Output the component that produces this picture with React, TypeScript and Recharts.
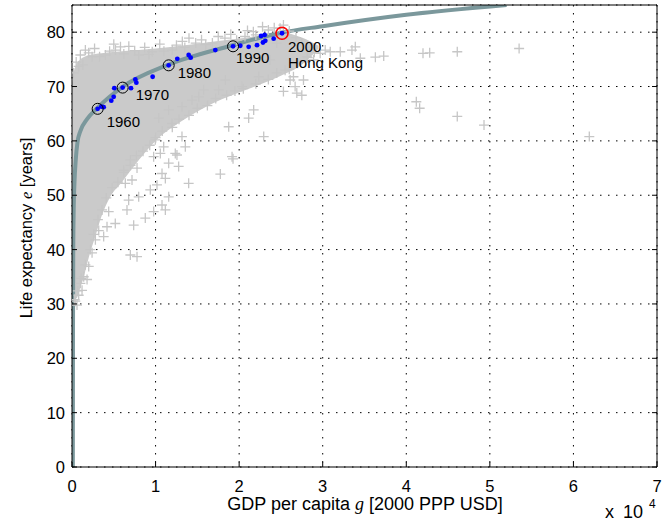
import React from "react";
import { ComposedChart, XAxis, YAxis, CartesianGrid, Area, Line, Scatter } from "recharts";

// GDP per capita g is in units of 10^4 USD, life expectancy e in years
const xTicks = [0, 1, 2, 3, 4, 5, 6, 7];
const yTicks = [0, 10, 20, 30, 40, 50, 60, 70, 80];

// dense core of the country/year cloud: lower and upper edge at each g
const bandG = [0, 0.02, 0.05, 0.1, 0.15, 0.2, 0.28, 0.35, 0.45, 0.6, 0.8, 1.0, 1.3, 1.7, 2.1, 2.5, 2.75, 2.95];
const bandLow = [31, 31, 31, 33, 35.5, 38.5, 42.5, 46, 49.5, 52.5, 56.5, 60, 63.5, 67, 69.5, 72, 74, 77];
const bandHigh = [70.5, 72.5, 74, 75, 75.5, 75.8, 76, 76.1, 76.3, 76.5, 76.7, 77, 77.5, 78.3, 79, 80, 79, 77.5];

// single country/year points outside or on the edge of the dense core
const cloud: [number, number][] = [
  // far right
  [3.09, 76.4], [3.21, 76.4], [3.35, 76.7], [3.39, 77.3], [3.45, 75.2], [3.63, 75.4], [3.73, 75.6],
  [4.2, 76.1], [4.28, 76.2], [4.61, 76.4], [5.35, 77.0], [4.12, 67.2], [4.16, 66.0], [4.61, 64.5],
  [4.93, 62.9], [6.19, 60.8],
  // around Hong Kong 2000
  [2.45, 78], [2.55, 73], [2.61, 71.2], [2.67, 70], [2.69, 68.8], [2.75, 68.4], [2.65, 71.8],
  [2.77, 71.2], [2.97, 76.1], [3.03, 76.7], [2.81, 75.5], [2.89, 74.9], [2.37, 74.9], [2.53, 69.1],
  [2.53, 81.3], [2.49, 80.7],
  // below the curve, middle
  [1.157, 65.7], [1.316, 66.3], [1.436, 67.5], [1.516, 68.1], [1.576, 69.4], [1.316, 60.8],
  [1.197, 63.2], [1.356, 58.9], [1.236, 57.7], [1.875, 62.6], [1.915, 57.1], [2.174, 65.7],
  [2.294, 60.8], [2.114, 64.2], [1.755, 69.4], [1.835, 71.2], [2.034, 70.0], [2.234, 71.8],
  [1.037, 64.2], [0.997, 60.2], [1.097, 58.9], [0.977, 57.1],
  [1.057, 57.7], [1.256, 57.4], [1.276, 55.3], [1.157, 55.9], [1.077, 54.0], [1.117, 53.1],
  [1.017, 51.9], [0.937, 51.0], [1.396, 52.2], [1.775, 53.9], [1.927, 56.7], [1.157, 49.7],
  [1.077, 48.2], [1.117, 47.3], [0.977, 47.0], [0.877, 45.8], [0.738, 44.5], [0.698, 39.0],
  [0.778, 38.7], [0.798, 49.7], [0.678, 49.1], [0.658, 47.3], [0.439, 47.0], [0.518, 44.8],
  [0.419, 44.2], [0.379, 42.4], [0.638, 52.2], [0.718, 52.8], [0.618, 54.6], [0.778, 55.0],
  [0.698, 56.5],
  // lower left
  [0.08, 31.6], [0.06, 29.8], [0.1, 33.8], [0.14, 35.0], [0.2, 36.9], [0.24, 39.4], [0.28, 41.8],
  [0.12, 32.5], [0.18, 34.5], [0.32, 43.5], [0.04, 30.5],
  // top edge
  [0.16, 76.7], [0.24, 75.5], [0.4, 75.8], [0.52, 76.7], [0.58, 77.3], [0.08, 73.7], [0.8, 75.8],
  [0.96, 76.4], [1.32, 78.3], [1.4, 78.9], [1.48, 78], [1.68, 78], [1.83, 78.9], [2.07, 79.2],
  [2.17, 80.1], [2.35, 80.4], [1.2, 76.7],
  [0.02, 72.5], [0.05, 74.5], [0.1, 75.8], [0.13, 74], [0.2, 76.2], [0.27, 77], [0.33, 75.5],
  [0.45, 76.5], [0.5, 77.8], [0.62, 76], [0.68, 77.4], [0.75, 76.6], [0.87, 77.2], [0.92, 75.9],
  [1.05, 77.8], [1.1, 76.5], [1.25, 77.6], [1.35, 77.2], [1.55, 78.6], [1.6, 77.7], [1.75, 79.2],
  [1.9, 79.6], [1.97, 78.5], [2.1, 80.3], [2.2, 79.5], [2.28, 81], [2.42, 80.8], [2.6, 80.2],
  [2.68, 79], [2.75, 78], [2.85, 77.2],
  // bottom edge
  [0.03, 30.8], [0.07, 32.4], [0.11, 34.7], [0.16, 37.2], [0.22, 40], [0.26, 42.8], [0.31, 45.5],
  [0.36, 47.3], [0.41, 49.5], [0.48, 51.4], [0.55, 52.4], [0.62, 54.2], [0.7, 55.5], [0.77, 57.3],
  [0.85, 58.1], [0.93, 59.2], [1.0, 60.6], [1.08, 61.8], [1.2, 62.5], [1.28, 64], [1.4, 64.7],
  [1.5, 66], [1.62, 66.5], [1.72, 67.8], [1.85, 68.4], [1.95, 69.2], [2.05, 69.6], [2.2, 70.5],
  [2.35, 71.3], [2.45, 72.5], [2.6, 73.2], [2.7, 74.3], [2.82, 75.3], [2.9, 76.3],
];

// log fit through the cloud
const fit: [number, number][] = [
  [0.01, 0], [0.012, 25], [0.015, 40], [0.02, 47], [0.03, 52.5], [0.045, 56.5], [0.065, 59.7],
  [0.1, 61.8], [0.18, 64], [0.3, 66], [0.6, 69.9], [1.15, 74], [1.9, 77.5], [2.5, 79.9],
  [3.0, 81.1], [4.0, 83.2], [5.2, 85],
];

// Hong Kong, 1960-2000
const hongKong: [number, number][] = [
  [0.307, 65.9], [0.351, 66.3], [0.379, 66.2], [0.47, 67.4], [0.499, 68.1], [0.506, 69.7],
  [0.606, 69.8], [0.706, 69.7], [0.758, 71.3], [0.77, 70.7], [0.965, 71.8], [1.157, 73.9],
  [1.26, 75.1], [1.396, 75.8], [1.42, 75.3], [1.715, 76.7], [1.927, 77.4], [2.014, 77.5],
  [2.114, 77.3], [2.214, 77.6], [2.262, 79.3], [2.305, 79.5], [2.285, 78.1], [2.313, 78.4],
  [2.413, 78.8], [2.513, 79.8],
];

const markYears = ["1960", "1970", "1980", "1990", "2000"];
const markPoints: [number, number][] = [[0.307, 65.9], [0.606, 69.8], [1.157, 73.9], [1.927, 77.4], [2.513, 79.8]];

const FONT = '"Liberation Sans", Arial, Helvetica, sans-serif';
const labelOffset: Record<string, [number, number]> = {
  "1960": [9, 18],
  "1970": [13, 12],
  "1980": [9, 13],
  "1990": [3, 17],
  "2000": [6, 19],
};

const bandData = bandG.map((g, i) => ({ g, band: [bandLow[i], bandHigh[i]] }));
const cloudData = cloud.map(([g, e]) => ({ g, e }));
const fitData = fit.map(([g, e]) => ({ g, e }));
const hkData = hongKong.map(([g, e]) => ({ g, e }));
const markData = markPoints.map(([g, e], i) => ({ g, e, year: markYears[i] }));

const Cross = (p: any) => (
  <path
    d={`M${p.cx - 5},${p.cy}h10M${p.cx},${p.cy - 5}v10`}
    stroke="#c6c6c6"
    strokeWidth={1.3}
    fill="none"
  />
);

const Dot = (p: any) => <circle cx={p.cx} cy={p.cy} r={2.4} fill="#0000ff" />;

const Marker = (p: any) => {
  const year = p.payload?.year ?? p.year;
  const last = year === "2000";
  const [dx, dy] = labelOffset[year] || [8, 16];
  return (
    <g>
      <circle cx={p.cx} cy={p.cy} r={last ? 6 : 5.5} fill="none" stroke={last ? "#ff0000" : "#000"} strokeWidth={last ? 1.6 : 1} />
      <text x={p.cx + dx} y={p.cy + dy} fontSize={15} fontFamily={FONT} fill="#000">{year}</text>
      {last && (
        <text x={p.cx + dx} y={p.cy + dy + 16} fontSize={15} fontFamily={FONT} fill="#000">Hong Kong</text>
      )}
    </g>
  );
};

const BottomTick = (p: any) => (
  <g>
    <line x1={p.x} y1={p.y} x2={p.x} y2={p.y - 5} stroke="#000" />
    <text x={p.x} y={p.y + 25} textAnchor="middle" fontSize={16.5} fontFamily={FONT} fill="#000">
      {p.payload.value}
    </text>
  </g>
);

const TopTick = (p: any) => <line x1={p.x} y1={p.y} x2={p.x} y2={p.y + 5} stroke="#000" />;

const LeftTick = (p: any) => (
  <g>
    <line x1={p.x} y1={p.y} x2={p.x + 5} y2={p.y} stroke="#000" />
    <text x={p.x - 7} y={p.y + 6} textAnchor="end" fontSize={16.5} fontFamily={FONT} fill="#000">
      {p.payload.value}
    </text>
  </g>
);

const RightTick = (p: any) => <line x1={p.x} y1={p.y} x2={p.x - 5} y2={p.y} stroke="#000" />;

export default function App() {
  return (
    <div style={{ position: "absolute", left: 0, top: 0, background: "#fff" }}>
      <ComposedChart width={667} height={521} margin={{ top: 4, right: 9, bottom: 0, left: 0 }}>
        <CartesianGrid stroke="#000" strokeDasharray="1.5 6.5" strokeWidth={1} />
        <XAxis
          dataKey="g"
          type="number"
          domain={[0, 7]}
          ticks={xTicks}
          interval={0}
          allowDataOverflow
          height={54}
          tickSize={0}
          tickMargin={0}
          tick={<BottomTick />}
          axisLine={{ stroke: "#000" }}
        />
        <XAxis
          xAxisId="top"
          orientation="top"
          type="number"
          domain={[0, 7]}
          ticks={xTicks}
          interval={0}
          allowDataOverflow
          height={1}
          tickSize={0}
          tickMargin={0}
          tick={<TopTick />}
          axisLine={{ stroke: "#000" }}
        />
        <YAxis
          dataKey="e"
          type="number"
          domain={[0, 85]}
          ticks={yTicks}
          interval={0}
          allowDataOverflow
          width={72}
          tickSize={0}
          tickMargin={0}
          tick={<LeftTick />}
          axisLine={{ stroke: "#000" }}
        />
        <YAxis
          yAxisId="right"
          orientation="right"
          type="number"
          domain={[0, 85]}
          ticks={yTicks}
          interval={0}
          allowDataOverflow
          width={1}
          tickSize={0}
          tickMargin={0}
          tick={<RightTick />}
          axisLine={{ stroke: "#000" }}
        />
        <Area
          data={bandData}
          dataKey="band"
          type="monotone"
          stroke="none"
          fill="#cacaca"
          fillOpacity={1}
          isAnimationActive={false}
        />
        <Scatter data={cloudData} shape={<Cross />} isAnimationActive={false} />
        <Line
          data={fitData}
          dataKey="e"
          type="monotone"
          stroke="#7b989c"
          strokeWidth={4}
          dot={false}
          activeDot={false}
          isAnimationActive={false}
        />
        <Scatter data={hkData} shape={<Dot />} isAnimationActive={false} />
        <Scatter data={markData} shape={<Marker />} isAnimationActive={false} />
        <text x={365} y={510} textAnchor="middle" fontSize={18} fontFamily={FONT} fill="#000">
          GDP per capita <tspan fontFamily="'Liberation Serif', serif" fontStyle="italic">g</tspan> [2000 PPP USD]
        </text>
        <text transform="rotate(-90)" x={-228} y={32} textAnchor="middle" fontSize={16.5} fontFamily={FONT} fill="#000">
          Life expectancy <tspan fontFamily="'Liberation Serif', serif" fontStyle="italic">e</tspan> [years]
        </text>
        <text x={605} y={518} fontSize={18} fontFamily={FONT} fill="#000">x</text>
        <text x={623} y={518} fontSize={18} fontFamily={FONT} fill="#000">10</text>
        <text x={649} y={508} fontSize={12} fontFamily={FONT} fill="#000">4</text>
      </ComposedChart>
    </div>
  );
}
